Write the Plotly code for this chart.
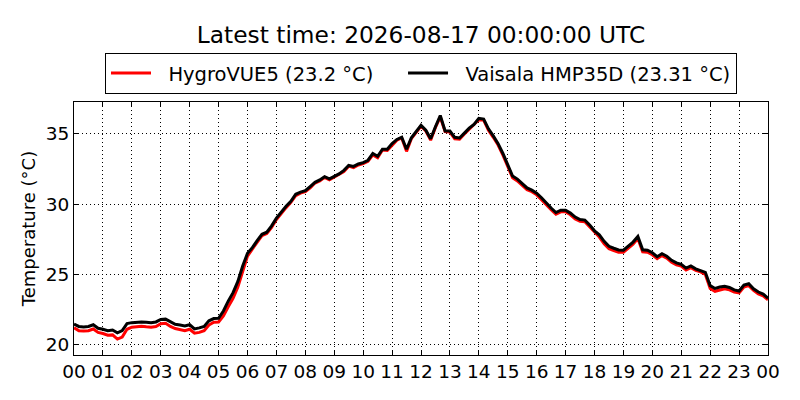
import pandas as pd
import plotly.graph_objects as go

# readings every 10 minutes, 2026-08-16 00:00 .. 2026-08-17 00:00 UTC
times = pd.date_range("2026-08-16 00:00", "2026-08-17 00:00", freq="10min")

vaisala = [
    21.47, 21.30, 21.26, 21.30, 21.42, 21.17, 21.10, 21.00, 21.05, 20.85,
    21.00, 21.50, 21.57, 21.62, 21.62, 21.60, 21.56, 21.62, 21.80, 21.82,
    21.62, 21.45, 21.40, 21.33, 21.42, 21.12, 21.20, 21.30, 21.70, 21.86,
    21.88, 22.40, 23.10, 23.70, 24.50, 25.60, 26.50, 26.90, 27.40, 27.85,
    28.00, 28.45, 29.00, 29.45, 29.85, 30.20, 30.70, 30.85, 30.95, 31.25,
    31.55, 31.72, 31.95, 31.80, 31.98, 32.15, 32.40, 32.75, 32.68, 32.85,
    32.95, 33.12, 33.60, 33.40, 33.90, 33.90, 34.30, 34.60, 34.76, 33.90,
    34.72, 35.15, 35.60, 35.25, 34.65, 35.50, 36.30, 35.20, 35.20, 34.75,
    34.70, 35.05, 35.40, 35.67, 36.10, 36.05, 35.35, 34.85, 34.30, 33.60,
    32.75, 32.00, 31.78, 31.45, 31.15, 30.99, 30.78, 30.45, 30.06, 29.72,
    29.40, 29.57, 29.56, 29.36, 29.08, 28.90, 28.86, 28.52, 28.10, 27.82,
    27.35, 27.00, 26.86, 26.74, 26.72, 27.00, 27.30, 27.70, 26.75, 26.72,
    26.54, 26.26, 26.47, 26.29, 26.00, 25.82, 25.72, 25.45, 25.60, 25.40,
    25.30, 25.15, 24.20, 24.00, 24.10, 24.16, 24.07, 23.90, 23.82, 24.25,
    24.34, 23.98, 23.75, 23.60, 23.31,
]

hygrovue = [
    21.20, 21.00, 20.98, 21.00, 21.12, 20.88, 20.80, 20.68, 20.70, 20.40,
    20.55, 21.10, 21.25, 21.30, 21.32, 21.28, 21.25, 21.30, 21.50, 21.52,
    21.30, 21.15, 21.08, 21.00, 21.10, 20.82, 20.88, 21.00, 21.40, 21.60,
    21.62, 22.05, 22.70, 23.30, 24.10, 25.20, 26.30, 26.80, 27.30, 27.75,
    27.90, 28.35, 28.90, 29.35, 29.75, 30.12, 30.60, 30.78, 30.88, 31.15,
    31.50, 31.65, 31.90, 31.72, 31.92, 32.10, 32.32, 32.70, 32.60, 32.78,
    32.88, 33.05, 33.50, 33.30, 33.85, 33.82, 34.22, 34.55, 34.70, 33.75,
    34.65, 35.10, 35.55, 35.20, 34.55, 35.45, 36.20, 35.15, 35.12, 34.65,
    34.62, 34.98, 35.32, 35.60, 36.00, 35.98, 35.25, 34.75, 34.20, 33.48,
    32.62, 31.88, 31.65, 31.32, 31.02, 30.88, 30.66, 30.32, 29.94, 29.60,
    29.28, 29.45, 29.45, 29.24, 28.95, 28.78, 28.74, 28.38, 27.96, 27.66,
    27.18, 26.82, 26.70, 26.58, 26.58, 26.85, 27.15, 27.55, 26.60, 26.58,
    26.40, 26.12, 26.34, 26.16, 25.86, 25.68, 25.60, 25.32, 25.48, 25.28,
    25.18, 25.00, 24.00, 23.80, 23.90, 23.98, 23.90, 23.74, 23.68, 24.10,
    24.20, 23.86, 23.62, 23.48, 23.20,
]

y_ticks = [20, 25, 30, 35]

font = "DejaVu Sans, Liberation Sans, sans-serif"
nb = "\u00a0"

fig = go.Figure()
fig.add_trace(go.Scatter(
    x=times, y=hygrovue, mode="lines",
    name=nb * 2 + "HygroVUE5 (%s °C)" % hygrovue[-1] + nb * 4,
    line=dict(color="red", width=3),
))
fig.add_trace(go.Scatter(
    x=times, y=vaisala, mode="lines",
    name=nb * 2 + "Vaisala HMP35D (%s °C)" % vaisala[-1],
    line=dict(color="black", width=3),
))

axis_style = dict(
    showline=True, linecolor="black", linewidth=1, mirror="ticks",
    ticks="inside", ticklen=5, tickcolor="black",
    showgrid=True, gridcolor="black", gridwidth=1, griddash="1px,3px",
    zeroline=False,
    tickfont=dict(size=18.5, color="black", family=font),
)

fig.update_xaxes(
    range=[times[0], times[-1]],
    tickformat="%H", dtick=3600000,
    **axis_style,
)
fig.update_yaxes(
    range=[19.27, 37.26], tickvals=y_ticks,
    title=dict(text="Temperature (°C)", font=dict(size=18, color="black", family=font), standoff=5),
    **axis_style,
)

# page body adds an 8px offset, so the figure is 792x392 and margins are shifted
fig.update_layout(
    width=792, height=392,
    margin=dict(l=66, r=32, t=94, b=45),
    plot_bgcolor="white", paper_bgcolor="white",
    font=dict(family=font, color="black"),
    title=dict(text="Latest time: 2026-08-17 00:00:00 UTC", x=0.5215, xanchor="center",
               y=0.931, yanchor="middle", font=dict(size=23.3, color="black", family=font)),
    legend=dict(orientation="h", x=0.5, xanchor="center", y=1.194, yanchor="top",
                bordercolor="black", borderwidth=1, bgcolor="white",
                font=dict(size=19.5, color="black", family=font),
                itemwidth=40, tracegroupgap=0),
    showlegend=True,
)

fig.write_html("out.html")
